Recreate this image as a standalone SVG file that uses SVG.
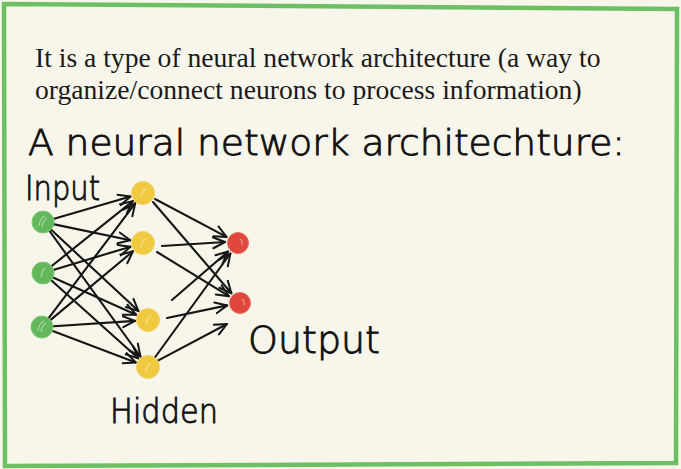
<svg xmlns="http://www.w3.org/2000/svg" width="681" height="469" viewBox="0 0 681 469">
<defs>
<style>
.bg{fill:#f8f6ea}
.frame{fill:none;stroke:#6cbf62;stroke-width:4.5}
.serif{font-family:"Liberation Serif","Times New Roman",serif;font-size:27.6px;fill:#1a1a1a}
.hand{font-family:"DejaVu Sans","Liberation Sans",sans-serif;font-weight:200;fill:#111;stroke:#111;stroke-width:0.9}
.edge{fill:none;stroke:#151515;stroke-width:2.1;stroke-linecap:round;marker-end:url(#ah)}
.in{fill:#64b85c;stroke:#7cc872;stroke-width:1}
.hid{fill:#efc940;stroke:#f3d462;stroke-width:1}
.out{fill:#e0463c;stroke:#ea6a5c;stroke-width:1}
.gl{fill:none;stroke:#ffffff;stroke-opacity:0.45;stroke-width:1.2}
</style>
<marker id="ah" viewBox="0 0 14 14" refX="13" refY="7" markerWidth="14" markerHeight="14" markerUnits="userSpaceOnUse" orient="auto">
<path d="M1,1.5 L13,7 L1,12.5" fill="none" stroke="#151515" stroke-width="2" stroke-linecap="round" stroke-linejoin="round"/>
</marker>
</defs>
<rect class="bg" x="0" y="0" width="681" height="469"/>
<path class="frame" d="M4,4 L677,9 L676,463 L5,466 Z"/>
<g id="text-intro">
<text class="serif" x="35" y="67">It is a type of neural network architecture (a way to</text>
<text class="serif" x="35" y="99">organize/connect neurons to process information)</text>
</g>
<g id="title">
<text class="hand" x="28" y="155" font-size="36" textLength="597" lengthAdjust="spacingAndGlyphs">A neural network architechture:</text>
</g>
<g id="connectors">
<line class="edge" x1="50.7" y1="219.8" x2="130.5" y2="196.6"/>
<line class="edge" x1="50.8" y1="223.6" x2="130.3" y2="240.3"/>
<line class="edge" x1="48.8" y1="227.5" x2="138.5" y2="311.1"/>
<line class="edge" x1="47.7" y1="228.5" x2="140.4" y2="356.5"/>
<line class="edge" x1="49.2" y1="268" x2="132.8" y2="201.1"/>
<line class="edge" x1="50.7" y1="270.7" x2="130.5" y2="246.7"/>
<line class="edge" x1="50.3" y1="276.3" x2="136.1" y2="314.7"/>
<line class="edge" x1="49" y1="278.3" x2="138.3" y2="358.3"/>
<line class="edge" x1="46.8" y1="320.6" x2="135.2" y2="203.4"/>
<line class="edge" x1="48.2" y1="321.9" x2="133" y2="251.3"/>
<line class="edge" x1="50" y1="326.5" x2="135" y2="320.9"/>
<line class="edge" x1="49.5" y1="329.8" x2="135.8" y2="362.4"/>
<line class="edge" x1="155" y1="199" x2="226.5" y2="236.9"/>
<line class="edge" x1="153" y1="202" x2="231.4" y2="293.3"/>
<line class="edge" x1="162" y1="246" x2="225" y2="242"/>
<line class="edge" x1="157" y1="252" x2="228.9" y2="296.2"/>
<line class="edge" x1="172" y1="300" x2="228.1" y2="251.5"/>
<line class="edge" x1="167" y1="318" x2="227.2" y2="305.4"/>
<line class="edge" x1="152.7" y1="360.5" x2="230.4" y2="253.5"/>
<line class="edge" x1="154.6" y1="362.4" x2="227" y2="324"/>
</g>
<g id="input-1"><circle class="in" cx="43" cy="222" r="11"/><path class="gl" d="M39,226 Q40,218 45,216 M42,227 Q43,220 47,218"/></g>
<g id="input-2"><circle class="in" cx="43" cy="273" r="11"/><path class="gl" d="M41,277 Q42,271 45,268"/></g>
<g id="input-3"><circle class="in" cx="42" cy="327" r="11"/><path class="gl" d="M38,331 Q39,323 44,321 M41,332 Q42,325 46,323"/></g>
<g id="hidden-1"><circle class="hid" cx="143" cy="193" r="11.5"/><path class="gl" d="M141,197 Q142,191 146,189"/></g>
<g id="hidden-2"><circle class="hid" cx="143" cy="243" r="11.5"/><path class="gl" d="M141,247 Q142,241 146,239"/></g>
<g id="hidden-3"><circle class="hid" cx="148" cy="320" r="11.5"/><path class="gl" d="M146,324 Q147,318 151,316"/></g>
<g id="hidden-4"><circle class="hid" cx="148" cy="367" r="11.5"/><path class="gl" d="M146,371 Q147,365 151,363"/></g>
<g id="output-1"><circle class="out" cx="238" cy="243" r="10.5"/><path class="gl" d="M240,239 Q243,241 242,245"/></g>
<g id="output-2"><circle class="out" cx="240" cy="303" r="10.5"/><path class="gl" d="M242,299 Q245,301 244,305"/></g>
<g id="labels">
<text class="hand" x="25" y="200" font-size="34" textLength="75" lengthAdjust="spacingAndGlyphs">Input</text>
<text class="hand" x="110" y="423" font-size="33" textLength="108" lengthAdjust="spacingAndGlyphs">Hidden</text>
<text class="hand" x="248" y="353" font-size="38" textLength="132" lengthAdjust="spacingAndGlyphs">Output</text>
</g>
</svg>
